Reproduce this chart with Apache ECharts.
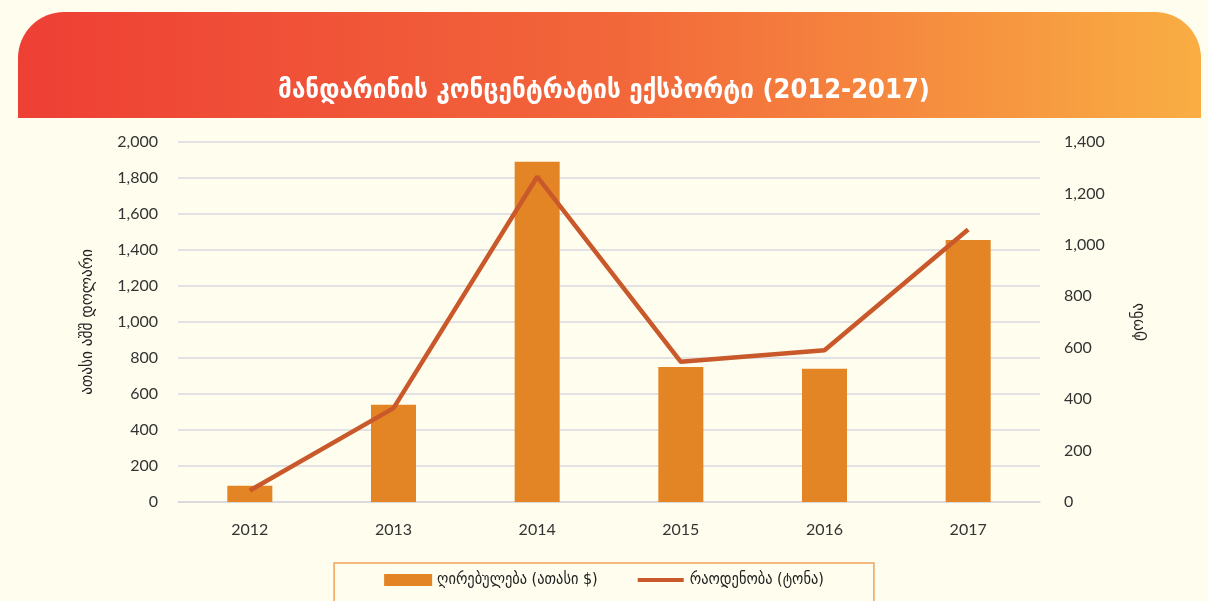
<!DOCTYPE html>
<html>
<head>
<meta charset="utf-8">
<title>მანდარინის კონცენტრატის ექსპორტი</title>
<script src="https://cdn.jsdelivr.net/npm/echarts@6/dist/echarts.min.js"></script>
<style>
    html, body { margin: 0; padding: 0; background: #FFFDEE; }
    #chart { width: 1208px; height: 601px; }
</style>
</head>
<body>
<div id="chart"></div>
<script>
// წლები
var years = ['2012', '2013', '2014', '2015', '2016', '2017'];
// ღირებულება (ათასი $) - მარცხენა ღერძი
var valueData = [90, 540, 1890, 750, 740, 1455];
// რაოდენობა (ტონა) - მარჯვენა ღერძი
var amountData = [45, 365, 1265, 545, 590, 1060];

var titleText = 'მანდარინის კონცენტრატის ექსპორტი (2012-2017)';
var leftName = 'ათასი აშშ დოლარი';
var rightName = 'ტონა';
var seriesNames = ['ღირებულება (ათასი $)', 'რაოდენობა (ტონა)'];

var labelFont = 'Lato, "DejaVu Sans", sans-serif';
var geoFont = '"DejaVu Sans Condensed", "DejaVu Sans", sans-serif';

// legend-ის ხაზის აიკონი (წრის გარეშე)
var lineIcon = 'path://M0,0 L0,0 M0,4 L46,4 L46,8 L0,8 Z M46,12 L46,12';

function fmt(v) {
    return v.toLocaleString('en-US');
}

var myChart = echarts.init(document.getElementById('chart'));

var option = {
    backgroundColor: '#FFFDEE',
    animation: false,
    graphic: [
        {
            // ზედა ფერადი ზოლი
            type: 'rect',
            z: -1,
            shape: { x: 18, y: 12, width: 1183, height: 106, r: [46, 46, 0, 0] },
            style: {
                fill: new echarts.graphic.LinearGradient(0, 0, 1, 0, [
                    { offset: 0, color: '#EE3F35' },
                    { offset: 0.5, color: '#F2663A' },
                    { offset: 1, color: '#F9AE43' }
                ])
            }
        }
    ],
    title: {
        text: titleText,
        left: 'center',
        top: 72,
        textStyle: {
            color: '#ffffff',
            fontSize: 27,
            fontWeight: 'bold',
            fontFamily: geoFont
        }
    },
    legend: {
        data: [
            { name: seriesNames[0], icon: 'rect' },
            { name: seriesNames[1], icon: lineIcon }
        ],
        left: 'center',
        top: 563,
        itemWidth: 48,
        itemHeight: 12,
        itemGap: 40,
        padding: [9, 50, 20, 50],
        borderColor: '#F0A35A',
        borderWidth: 1.5,
        textStyle: { color: '#222', fontSize: 16, fontFamily: geoFont }
    },
    grid: {
        left: 178,
        right: 168,
        top: 142,
        bottom: 99
    },
    xAxis: {
        type: 'category',
        data: years,
        axisTick: { show: false },
        axisLine: { lineStyle: { color: '#D6D6DC', width: 1.5 } },
        axisLabel: { color: '#333', fontSize: 16, margin: 20, fontFamily: labelFont }
    },
    yAxis: [
        {
            type: 'value',
            min: 0,
            max: 2000,
            interval: 200,
            name: leftName,
            nameLocation: 'middle',
            nameRotate: 90,
            nameGap: 82,
            nameTextStyle: { color: '#222', fontSize: 17, fontFamily: geoFont },
            axisLabel: { color: '#333', fontSize: 16, margin: 20, fontFamily: labelFont, formatter: fmt },
            splitLine: { lineStyle: { color: '#D9D9E2', width: 1.5 } }
        },
        {
            type: 'value',
            min: 0,
            max: 1400,
            interval: 200,
            name: rightName,
            nameLocation: 'middle',
            nameRotate: 90,
            nameGap: 90,
            nameTextStyle: { color: '#222', fontSize: 17, fontFamily: geoFont },
            axisLabel: { color: '#333', fontSize: 16, margin: 24, fontFamily: labelFont, formatter: fmt },
            splitLine: { show: false }
        }
    ],
    series: [
        {
            name: seriesNames[0],
            type: 'bar',
            yAxisIndex: 0,
            data: valueData,
            barWidth: 45,
            itemStyle: { color: '#E38425' }
        },
        {
            name: seriesNames[1],
            type: 'line',
            yAxisIndex: 1,
            data: amountData,
            symbol: 'none',
            lineStyle: { color: '#C9592A', width: 4.5 },
            itemStyle: { color: '#C9592A' }
        }
    ]
};

myChart.setOption(option);
</script>
</body>
</html>
